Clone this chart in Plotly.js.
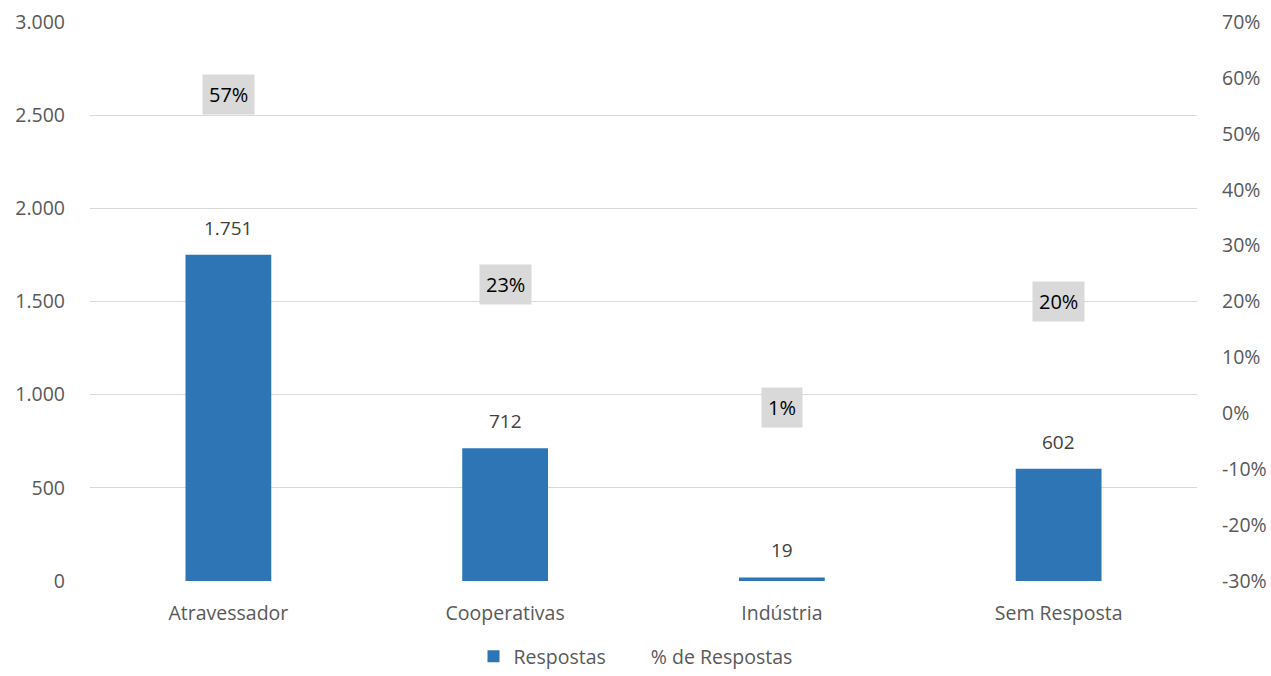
<!DOCTYPE html>
<html><head><meta charset="utf-8">
<script src="https://cdn.plot.ly/plotly-3.0.1.min.js"></script>
<style>html,body{margin:0;padding:0;background:#fff}#chart{width:1271px;height:676px}</style>
</head><body><div id="chart"></div>
<script>
const categories = ["Atravessador", "Cooperativas", "Indústria", "Sem Resposta"];
const respostas = [1751, 712, 19, 602];
const pctRespostas = [0.57, 0.23, 0.01, 0.20];
const pctLabels = ["57%", "23%", "1%", "20%"];
const leftTicks = [0, 500, 1000, 1500, 2000, 2500, 3000];
const rightTicks = [-0.3, -0.2, -0.1, 0, 0.1, 0.2, 0.3, 0.4, 0.5, 0.6, 0.7];
const rightTickText = ["-30%", "-20%", "-10%", "0%", "10%", "20%", "30%", "40%", "50%", "60%", "70%"];

const font = "Open Sans, Noto Sans, sans-serif";
const traces = [
  {type: "bar", name: "Respostas", x: categories, y: respostas,
   marker: {color: "#2E75B6"}, hoverinfo: "x+y"},
  {type: "scatter", mode: "lines", name: "% de Respostas", x: categories, y: pctRespostas,
   yaxis: "y2", line: {color: "rgba(0,0,0,0)", width: 2}, hoverinfo: "skip"}
];
const barLabels = categories.map((c, i) => ({
  x: c, y: respostas[i], xref: "x", yref: "y", text: respostas[i].toLocaleString("de-DE"),
  showarrow: false, yanchor: "bottom", yshift: 12,
  font: {family: font, size: 19, color: "#404040"}
}));
const pctAnnots = categories.map((c, i) => ({
  x: c, y: pctRespostas[i], xref: "x", yref: "y2", text: pctLabels[i],
  showarrow: false, bgcolor: "#D9D9D9", borderpad: 6,
  font: {family: font, size: 20, color: "#000000"}
}));
const layout = {
  width: 1271, height: 676,
  margin: {l: 90, r: 74, t: 22, b: 95, autoexpand: false},
  paper_bgcolor: "#fff", plot_bgcolor: "#fff",
  separators: ",.",
  bargap: 0.69,
  font: {family: font, size: 19, color: "#595959"},
  xaxis: {showgrid: false, showline: false, ticks: "", ticklabelstandoff: 18,
          tickfont: {size: 19.5, color: "#595959"}},
  yaxis: {range: [0, 3000], tickvals: leftTicks, tickformat: ",d", gridcolor: "#D9D9D9",
          gridwidth: 1.3, zeroline: false, showline: false, ticks: "", ticklabelstandoff: 24,
          tickfont: {size: 19.5, color: "#595959"}},
  yaxis2: {range: [-0.3, 0.7], overlaying: "y", side: "right", tickvals: rightTicks,
           ticktext: rightTickText, showgrid: false, zeroline: false, showline: false,
           ticks: "", ticklabelstandoff: 24, tickfont: {size: 19.5, color: "#595959"}},
  showlegend: true,
  legend: {orientation: "h", x: 0.5, xanchor: "center", xref: "container",
           y: 0, yanchor: "bottom", yref: "container",
           font: {size: 19.5, color: "#595959"}, itemwidth: 30, tracegroupgap: 0},
  annotations: barLabels.concat(pctAnnots)
};
Plotly.newPlot("chart", traces, layout, {displayModeBar: false, responsive: false});
</script></body></html>
